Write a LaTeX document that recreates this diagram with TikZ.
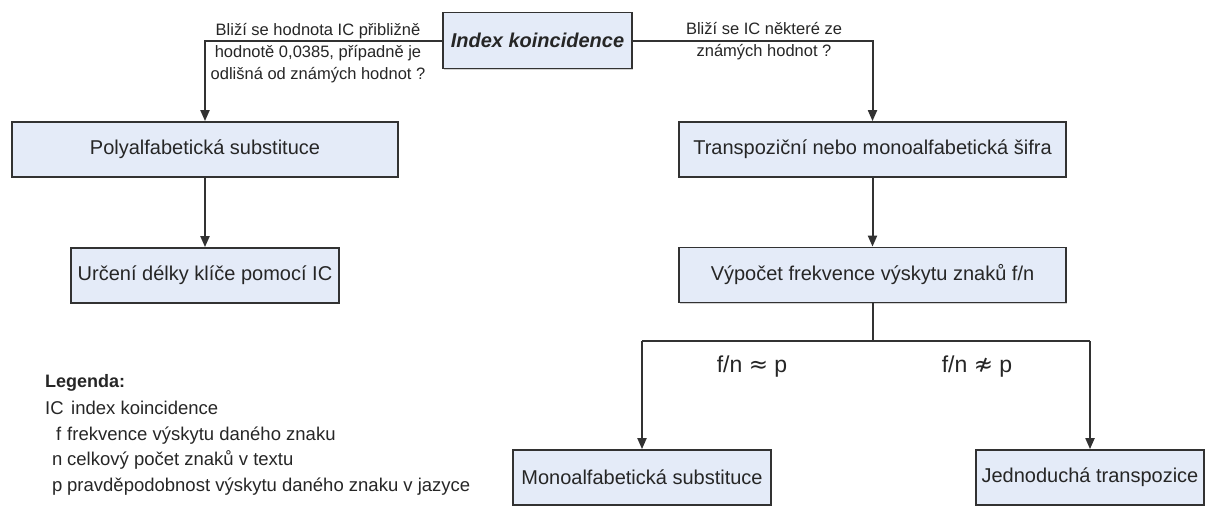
\documentclass[tikz,border=0pt]{standalone}
\usepackage{fontspec}
\setmainfont{Liberation Sans}
\newfontfamily\symf{DejaVu Sans}
\usetikzlibrary{arrows.meta,shadows}
\definecolor{boxfill}{RGB}{228,235,248}
\definecolor{linec}{RGB}{50,50,50}
\definecolor{txt}{RGB}{38,38,38}
\tikzset{
  box/.style={draw=linec, line width=1.8pt, fill=boxfill, minimum height=55pt, inner sep=0pt,
    text=txt, font=\fontsize{20}{23}\selectfont,
    drop shadow={shadow xshift=1.2pt, shadow yshift=-1.2pt, fill=black!35}},
  conn/.style={draw=linec, line width=2pt},
  arr/.style={conn, -{Triangle[length=11pt,width=9pt]}},
  qlabel/.style={font=\fontsize{16.5}{22}\selectfont, align=center, text=txt, inner sep=0pt},
  cond/.style={font=\fontsize{23}{26}\selectfont, text=txt, inner sep=0pt},
  legsym/.style={font=\fontsize{18.5}{22}\selectfont, text=txt, anchor=base west, inner sep=0pt},
  legtxt/.style={font=\fontsize{18.5}{22}\selectfont, text=txt, anchor=base west, inner sep=0pt},
}
\begin{document}
\begin{tikzpicture}[x=1pt,y=-1pt]
\useasboundingbox[fill=white] (0,0) rectangle (1209,514);

% boxes
\node[box, minimum width=189pt, minimum height=56pt, font=\fontsize{20}{23}\selectfont\bfseries\itshape] (idx) at (537.5,40.5) {Index koincidence};
\node[box, minimum width=386pt] (poly) at (205,149.5) {Polyalfabetická substituce};
\node[box, minimum width=387pt] (trans) at (872.5,149.5) {Transpoziční nebo monoalfabetická šifra};
\node[box, minimum width=268pt] (urc) at (205,275.5) {Určení délky klíče pomocí IC};
\node[box, minimum width=387pt] (vyp) at (872.5,275) {Výpočet frekvence výskytu znaků f/n};
\node[box, minimum width=258pt] (mono) at (642,477.5) {Monoalfabetická substituce};
\node[box, minimum width=228pt] (jedn) at (1090,477.5) {Jednoduchá transpozice};

% connectors
\draw[arr] (idx.west) -| (poly.north);
\draw[arr] (idx.east) -| (trans.north);
\draw[arr] (poly.south) -- (urc.north);
\draw[arr] (trans.south) -- (vyp.north);
\draw[conn] (vyp.south) -- ++(0,38) coordinate (br);
\draw[conn] (mono.north |- br) -- (jedn.north |- br);
\draw[arr] (mono.north |- br) -- (mono.north);
\draw[arr] (jedn.north |- br) -- (jedn.north);

% question labels
\node[qlabel] (qleft) at (318,53) {Bliží se hodnota IC přibližně\\hodnotě 0,0385, případně je\\odlišná od známých hodnot ?};
\node[qlabel] (qright) at (764,41) {Bliží se IC některé ze\\známých hodnot ?};

% condition labels
\node[cond] (c1) at (752,367) {f/n {\symf ≈} p};
\node[cond] (c2) at (977,367) {f/n {\symf ≉} p};

% legend
\node[font=\fontsize{18}{22}\selectfont\bfseries, text=txt, anchor=base west, inner sep=0pt] (leg) at (45,387) {Legenda:};
\node[legsym] (s1) at (45,414) {IC};
\node[legtxt] (t1) at (71,414) {index koincidence};
\node[legsym] (s2) at (56,440) {f};
\node[legtxt] (t2) at (67,440) {frekvence výskytu daného znaku};
\node[legsym] (s3) at (52,465) {n};
\node[legtxt] (t3) at (67,465) {celkový počet znaků v textu};
\node[legsym] (s4) at (52,491) {p};
\node[legtxt] (t4) at (67,491) {pravděpodobnost výskytu daného znaku v jazyce};
\end{tikzpicture}
\end{document}
